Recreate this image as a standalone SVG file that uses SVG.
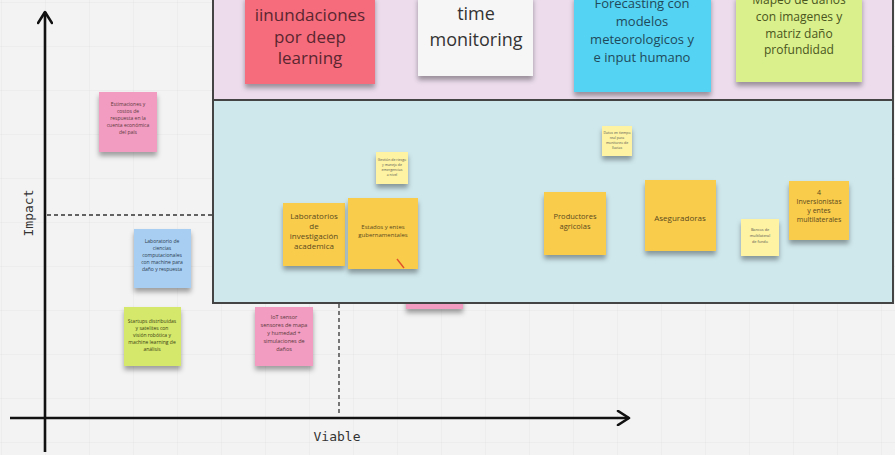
<svg xmlns="http://www.w3.org/2000/svg" width="895" height="455" viewBox="0 0 895 455">
  <defs>
    <pattern id="grid" width="44" height="44" patternUnits="userSpaceOnUse" x="2" y="3">
      <path d="M44 0V44H0" fill="none" stroke="#e6e6e6" stroke-width="1"/>
    </pattern>
    <filter id="shadow" x="-20%" y="-20%" width="140%" height="150%">
      <feDropShadow dx="0" dy="4" stdDeviation="2.5" flood-color="#000" flood-opacity="0.35"/>
    </filter>
    <marker id="arrow" viewBox="0 0 16 16" refX="13" refY="8" markerWidth="16" markerHeight="16" markerUnits="userSpaceOnUse" orient="auto">
      <path d="M2 1L13 8L2 15" fill="none" stroke="#111" stroke-width="2.6" stroke-linecap="round" stroke-linejoin="round"/>
    </marker>
  </defs>
  <style>
    .note { filter: url(#shadow); }
    .t { font-family: "Open Sans", "Noto Sans", sans-serif; text-anchor: middle; }
    .big { font-size: 17px; fill: #5a2630; }
    .tiny { font-size: 5px; fill: #5a3a3a; }
    .sm { font-size: 8px; fill: #5a4a20; }
    .fc { font-size: 13px; fill: #1f4a5c; }
    .mp { font-size: 12px; fill: #4a5520; }
    .axis { stroke: #111; stroke-width: 2.6; fill: none; }
    .dash { stroke: #333; stroke-width: 1.3; stroke-dasharray: 4 3; fill: none; }
    .lbl { font-family: "DejaVu Sans Mono", "Liberation Mono", monospace; font-size: 13px; fill: #333; }
  </style>

  <rect width="895" height="455" fill="#f3f3f3"/>
  <rect width="895" height="455" fill="url(#grid)"/>

  <!-- note tucked behind the middle zone, only its lower edge shows -->
  <g id="n-hidden">
    <rect class="note" x="406" y="270" width="57" height="39" fill="#f29cc2"/>
  </g>

  <!-- zones -->
  <g id="zone-top">
    <rect x="213" y="-2" width="680" height="102" fill="#ecdcec" stroke="#444" stroke-width="2"/>
  </g>
  <g id="zone-mid">
    <rect x="213" y="100" width="680" height="203" fill="#cfe8ec" stroke="#444" stroke-width="2"/>
  </g>

  <!-- axes and guides -->
  <g id="connectors">
    <line class="axis" x1="45" y1="452" x2="45" y2="12" marker-end="url(#arrow)"/>
    <line class="axis" x1="10" y1="418" x2="629" y2="418" marker-end="url(#arrow)"/>
    <line class="dash" x1="47" y1="215" x2="212" y2="215"/>
    <line class="dash" x1="339" y1="304" x2="339" y2="415"/>
  </g>
  <text class="lbl" x="33" y="213" text-anchor="middle" transform="rotate(-90 33 213)">Impact</text>
  <text class="lbl" x="337" y="441" text-anchor="middle">Viable</text>

  <!-- top row -->
  <g id="n-inundaciones">
    <rect class="note" x="245" y="-4" width="130" height="88" fill="#f66c7c"/>
    <text class="t big" x="310" y="21">iinundaciones</text>
    <text class="t big" x="310" y="43">por deep</text>
    <text class="t big" x="310" y="64">learning</text>
  </g>
  <g id="n-monitoring">
    <rect class="note" x="418" y="-4" width="115" height="80" fill="#f6f6f6"/>
    <text class="t big" x="476" y="20" style="font-size:18px;fill:#333">time</text>
    <text class="t big" x="476" y="46" style="font-size:18px;fill:#333">monitoring</text>
  </g>
  <g id="n-forecasting">
    <rect class="note" x="574" y="-4" width="137" height="96" fill="#55d3f2"/>
    <text class="t fc" x="642" y="8">Forecasting con</text>
    <text class="t fc" x="642" y="26">modelos</text>
    <text class="t fc" x="642" y="44">meteorologicos y</text>
    <text class="t fc" x="642" y="62">e input humano</text>
  </g>
  <g id="n-mapeo">
    <rect class="note" x="736" y="-4" width="126" height="86" fill="#d9f08c"/>
    <text class="t mp" x="799" y="4">Mapeo de daños</text>
    <text class="t mp" x="799" y="21">con imagenes y</text>
    <text class="t mp" x="799" y="38">matriz daño</text>
    <text class="t mp" x="799" y="54">profundidad</text>
  </g>

  <!-- left column notes -->
  <g id="n-estimaciones">
    <rect class="note" x="99" y="92" width="58" height="60" fill="#f29cc2"/>
    <text class="t tiny" x="128" y="106">Estimaciones y</text>
    <text class="t tiny" x="128" y="113">costos de</text>
    <text class="t tiny" x="128" y="120">respuesta en la</text>
    <text class="t tiny" x="128" y="127">cuenta económica</text>
    <text class="t tiny" x="128" y="134">del país</text>
  </g>
  <g id="n-laboratorio">
    <rect class="note" x="134" y="229" width="57" height="59" fill="#a8cff2"/>
    <text class="t tiny" x="162" y="243" style="fill:#2a3a50">Laboratorio de</text>
    <text class="t tiny" x="162" y="250" style="fill:#2a3a50">ciencias</text>
    <text class="t tiny" x="162" y="257" style="fill:#2a3a50">computacionales</text>
    <text class="t tiny" x="162" y="264" style="fill:#2a3a50">con machine para</text>
    <text class="t tiny" x="162" y="271" style="fill:#2a3a50">daño y respuesta</text>
  </g>
  <g id="n-startups">
    <rect class="note" x="124" y="307" width="57" height="59" fill="#d5e86c"/>
    <text class="t tiny" x="152" y="323" style="fill:#3a4010">Startups distribuidas</text>
    <text class="t tiny" x="152" y="330" style="fill:#3a4010">y satelites con</text>
    <text class="t tiny" x="152" y="337" style="fill:#3a4010">visión robótica y</text>
    <text class="t tiny" x="152" y="344" style="fill:#3a4010">machine learning de</text>
    <text class="t tiny" x="152" y="351" style="fill:#3a4010">análisis</text>
  </g>
  <g id="n-iot">
    <rect class="note" x="255" y="307" width="58" height="59" fill="#f29cc2"/>
    <text class="t tiny" x="284" y="319" style="font-size:5.5px">IoT sensor</text>
    <text class="t tiny" x="284" y="327" style="font-size:5.5px">sensores de mapa</text>
    <text class="t tiny" x="284" y="335" style="font-size:5.5px">y humedad +</text>
    <text class="t tiny" x="284" y="343" style="font-size:5.5px">simulaciones de</text>
    <text class="t tiny" x="284" y="351" style="font-size:5.5px">daños</text>
  </g>

  <!-- middle zone notes -->
  <g id="n-gestion">
    <rect class="note" x="376" y="152" width="32" height="32" fill="#fdf3a2"/>
    <text class="t" x="392" y="161" style="font-size:3.5px;fill:#555">Gestión de riesgo</text>
    <text class="t" x="392" y="166" style="font-size:3.5px;fill:#555">y manejo de</text>
    <text class="t" x="392" y="171" style="font-size:3.5px;fill:#555">emergencias</text>
    <text class="t" x="392" y="176" style="font-size:3.5px;fill:#555">a nivel</text>
  </g>
  <g id="n-monitoreo">
    <rect class="note" x="602" y="126" width="30" height="30" fill="#fdf3a2"/>
    <text class="t" x="617" y="134" style="font-size:3.5px;fill:#555">Datos en tiempo</text>
    <text class="t" x="617" y="139" style="font-size:3.5px;fill:#555">real para</text>
    <text class="t" x="617" y="144" style="font-size:3.5px;fill:#555">monitoreo de</text>
    <text class="t" x="617" y="149" style="font-size:3.5px;fill:#555">lluvias</text>
  </g>
  <g id="n-laboratorios">
    <rect class="note" x="283" y="203" width="62" height="63" fill="#f9cc4c"/>
    <text class="t sm" x="314" y="219">Laboratorios</text>
    <text class="t sm" x="314" y="229">de</text>
    <text class="t sm" x="314" y="239">investigación</text>
    <text class="t sm" x="314" y="249">academica</text>
  </g>
  <g id="n-estados">
    <rect class="note" x="348" y="198" width="70" height="71" fill="#f9cc4c"/>
    <text class="t" x="383" y="229" style="font-size:6px;fill:#5a4a20">Estados y entes</text>
    <text class="t" x="383" y="237" style="font-size:6px;fill:#5a4a20">gubernamentales</text>
    <line x1="397" y1="259" x2="404" y2="268" stroke="#e0502a" stroke-width="1.4"/>
  </g>
  <g id="n-productores">
    <rect class="note" x="544" y="192" width="62" height="63" fill="#f9cc4c"/>
    <text class="t sm" x="575" y="219" style="font-size:7.5px">Productores</text>
    <text class="t sm" x="575" y="229" style="font-size:7.5px">agricolas</text>
  </g>
  <g id="n-aseguradoras">
    <rect class="note" x="645" y="180" width="71" height="71" fill="#f9cc4c"/>
    <text class="t sm" x="680" y="221" style="font-size:8px">Aseguradoras</text>
  </g>
  <g id="n-multilateral">
    <rect class="note" x="741" y="219" width="38" height="37" fill="#fdf3a2"/>
    <text class="t" x="760" y="231" style="font-size:3.8px;fill:#555">Bancos de</text>
    <text class="t" x="760" y="237" style="font-size:3.8px;fill:#555">multilateral</text>
    <text class="t" x="760" y="243" style="font-size:3.8px;fill:#555">de fondo</text>
  </g>
  <g id="n-inversionistas">
    <rect class="note" x="789" y="181" width="60" height="59" fill="#f9cc4c"/>
    <text class="t sm" x="819" y="195" style="font-size:7px">4</text>
    <text class="t sm" x="819" y="204" style="font-size:7px">Inversionistas</text>
    <text class="t sm" x="819" y="213" style="font-size:7px">y entes</text>
    <text class="t sm" x="819" y="222" style="font-size:7px">multilaterales</text>
  </g>
</svg>
